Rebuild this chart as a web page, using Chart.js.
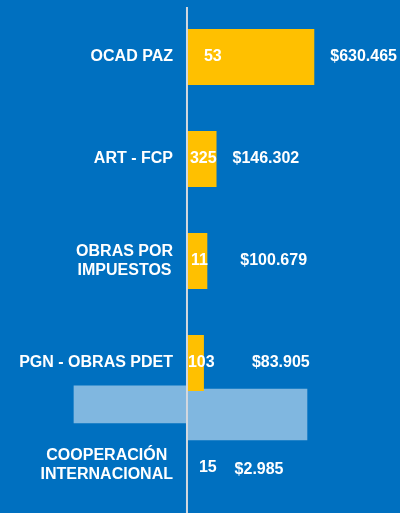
<!DOCTYPE html>
<html lang="es">
<head>
  <meta charset="UTF-8">
  <title>Fuentes de financiación</title>
  <script src="https://cdn.jsdelivr.net/npm/chart.js"></script>
  <style>
    html, body { margin: 0; padding: 0; background: #0070C0; overflow: hidden; }
    .wrap { width: 400px; height: 516px; position: relative; }
  </style>
</head>
<body>

<div class="wrap">
  <canvas id="chart"></canvas>
</div>

<script>
// Datos
const categorias = ['OCAD PAZ', 'ART - FCP', ['OBRAS POR', 'IMPUESTOS'], 'PGN - OBRAS PDET', ['COOPERACIÓN', 'INTERNACIONAL']];
const montos = [630465, 146302, 100679, 83905, 2985];   // millones
const proyectos = [53, 325, 11, 103, 15];

// Recuadro celeste que aparece superpuesto entre PGN y Cooperación
const recuadroIzq = [{ x: [-559600, 0], y: 3.405 }];
const recuadroDer = [{ x: [0, 594300], y: 3.505 }];

// Ajustes de posición de las etiquetas (px), como en la lámina original
const ajusteMontos = [16, 16, 33, 48, 47];
const ajusteProyectos = [17, 3, 4, 1, 12];
const dyMontos = [0, 0, 0, 0, 5];
const dyProyectos = [0, 0, 0, 0, 3];

function formatoPesos(n) {
  return '$' + n.toString().replace(/\B(?=(\d{3})+(?!\d))/g, '.');
}

const etiquetas = {
  id: 'etiquetas',
  afterDatasetsDraw(chart) {
    const { ctx, chartArea, scales: { x, y } } = chart;
    const x0 = x.getPixelForValue(0);
    ctx.save();

    // eje vertical
    ctx.strokeStyle = '#D3D8DF';
    ctx.lineWidth = 2;
    ctx.beginPath();
    ctx.moveTo(x0, chartArea.top + 1);
    ctx.lineTo(x0, chartArea.bottom);
    ctx.stroke();

    ctx.font = 'bold 16px "Liberation Sans", Arial, sans-serif';
    ctx.fillStyle = '#FFFFFF';
    ctx.textBaseline = 'middle';

    categorias.forEach((cat, i) => {
      const yc = y.getPixelForValue(i);
      const lineas = [].concat(cat);
      const anchoMax = Math.max(...lineas.map(l => ctx.measureText(l).width));
      ctx.textAlign = 'center';
      const cx = x0 - 14 - anchoMax / 2;
      lineas.forEach((l, k) => {
        ctx.fillText(l, cx, yc + (k - (lineas.length - 1) / 2) * 18.5);
      });

      ctx.textAlign = 'left';
      ctx.fillText(String(proyectos[i]), x0 + ajusteProyectos[i], yc + dyProyectos[i]);
      ctx.fillText(formatoPesos(montos[i]), x.getPixelForValue(montos[i]) + ajusteMontos[i], yc + dyMontos[i]);
    });

    ctx.restore();
  }
};

const ctx = document.getElementById('chart').getContext('2d');
new Chart(ctx, {
  type: 'bar',
  data: {
    labels: categorias,
    datasets: [
      {
        label: 'Monto',
        data: montos,
        backgroundColor: '#FFC000',
        borderWidth: 0,
        barPercentage: 0.55,
        categoryPercentage: 1,
        grouped: false,
        order: 1
      },
      {
        label: 'recuadro izq',
        data: recuadroIzq,
        yAxisID: 'y2',
        backgroundColor: '#80B7E0',
        borderWidth: 0,
        barThickness: 37,
        grouped: false,
        order: 2
      },
      {
        label: 'recuadro der',
        data: recuadroDer,
        yAxisID: 'y2',
        backgroundColor: '#80B7E0',
        borderWidth: 0,
        barThickness: 51,
        grouped: false,
        order: 2
      }
    ]
  },
  options: {
    indexAxis: 'y',
    responsive: true,
    maintainAspectRatio: false,
    animation: false,
    layout: { padding: { top: 6, left: 0, right: 0, bottom: 0 } },
    plugins: { legend: { display: false }, tooltip: { enabled: false } },
    scales: {
      x: { display: false, min: -926000, max: 1055000 },
      y: { display: false },
      y2: { type: 'linear', display: false, offset: false, min: -0.5, max: 4.5, reverse: true }
    }
  },
  plugins: [etiquetas]
});
</script>

</body>
</html>
